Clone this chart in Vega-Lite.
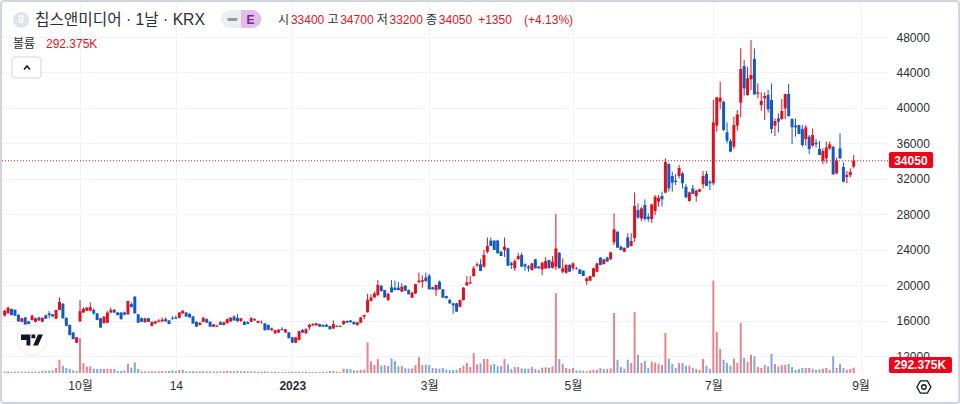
{"$schema":"https://vega.github.io/schema/vega-lite/v6.json","width":886,"height":371,"autosize":"none","padding":{"left":2,"top":2,"right":72,"bottom":31},"background":"#ffffff","config":{"view":{"stroke":null},"font":"Liberation Sans, Noto Sans CJK KR","text":{"font":"Liberation Sans, Noto Sans CJK KR"}},
"datasets":{"ohlcv":[
{"i":0,"o":16600,"h":17250,"l":16500,"c":17150,"v":73},{"i":1,"o":16850,"h":17600,"l":16800,"c":17500,"v":73},{"i":2,"o":17350,"h":17400,"l":16650,"c":16650,"v":73},{"i":3,"o":17250,"h":17300,"l":16550,"c":16600,"v":73},{"i":4,"o":16700,"h":16750,"l":15900,"c":15950,"v":73},{"i":5,"o":15900,"h":16350,"l":15850,"c":16300,"v":73},{"i":6,"o":16400,"h":16450,"l":15600,"c":15600,"v":73},{"i":7,"o":15950,"h":16000,"l":15650,"c":15650,"v":73},{"i":8,"o":16100,"h":16700,"l":16050,"c":16600,"v":73},{"i":9,"o":15900,"h":16350,"l":15850,"c":16300,"v":73},{"i":10,"o":16400,"h":16450,"l":16000,"c":16050,"v":73},{"i":11,"o":15900,"h":16400,"l":15850,"c":16350,"v":128},
{"i":12,"o":16650,"h":16700,"l":16250,"c":16250,"v":128},{"i":13,"o":16850,"h":17100,"l":16300,"c":16650,"v":128},{"i":14,"o":16750,"h":16800,"l":16450,"c":16500,"v":146},{"i":15,"o":16250,"h":17250,"l":16200,"c":17250,"v":275},{"i":16,"o":17250,"h":18650,"l":17200,"c":18150,"v":732},{"i":17,"o":17950,"h":18000,"l":16250,"c":16300,"v":403},{"i":18,"o":16350,"h":16400,"l":15400,"c":15450,"v":275},{"i":19,"o":15550,"h":15600,"l":14400,"c":14400,"v":220},{"i":20,"o":14700,"h":14750,"l":13950,"c":13950,"v":146},{"i":21,"o":13550,"h":14200,"l":13500,"c":14150,"v":110},
{"i":22,"o":15950,"h":18350,"l":15900,"c":17100,"v":1922},{"i":23,"o":16950,"h":17550,"l":16900,"c":17350,"v":549},{"i":24,"o":17150,"h":17550,"l":17100,"c":17500,"v":348},{"i":25,"o":17150,"h":18100,"l":17100,"c":17550,"v":366},{"i":26,"o":17250,"h":17400,"l":16700,"c":16850,"v":238},{"i":27,"o":16850,"h":16900,"l":16100,"c":16100,"v":220},{"i":28,"o":16300,"h":16350,"l":15250,"c":15250,"v":220},{"i":29,"o":15750,"h":16500,"l":15700,"c":16500,"v":220},{"i":30,"o":15800,"h":17100,"l":15800,"c":16950,"v":220},{"i":31,"o":16950,"h":17500,"l":16900,"c":17250,"v":220},{"i":32,"o":17250,"h":17350,"l":16900,"c":16950,"v":220},{"i":33,"o":16950,"h":17000,"l":16650,"c":16650,"v":110},{"i":34,"o":16950,"h":17000,"l":16150,"c":16200,"v":110},{"i":35,"o":16950,"h":17050,"l":16700,"c":16700,"v":146},{"i":36,"o":16750,"h":18250,"l":16700,"c":18250,"v":512},{"i":37,"o":17900,"h":18100,"l":17550,"c":17550,"v":293},{"i":38,"o":18750,"h":18750,"l":16850,"c":16850,"v":585},{"i":39,"o":16750,"h":16750,"l":15800,"c":15800,"v":220},
{"i":40,"o":16300,"h":16400,"l":15900,"c":15900,"v":92},{"i":41,"o":15850,"h":16350,"l":15800,"c":16300,"v":92},{"i":42,"o":16300,"h":16350,"l":15900,"c":15900,"v":92},{"i":43,"o":15450,"h":15950,"l":15350,"c":15900,"v":92},{"i":44,"o":15700,"h":16000,"l":15650,"c":15950,"v":92},{"i":45,"o":15900,"h":16200,"l":15850,"c":16050,"v":92},{"i":46,"o":15950,"h":16400,"l":15900,"c":16150,"v":110},{"i":47,"o":16200,"h":16400,"l":15950,"c":15950,"v":92},{"i":48,"o":16050,"h":16100,"l":15650,"c":15650,"v":110},{"i":49,"o":16300,"h":16550,"l":16150,"c":16200,"v":146},{"i":50,"o":16400,"h":16600,"l":16250,"c":16250,"v":110},{"i":51,"o":16350,"h":17000,"l":16300,"c":16950,"v":165},{"i":52,"o":16850,"h":17250,"l":16800,"c":17150,"v":165},{"i":53,"o":16950,"h":17000,"l":16450,"c":16500,"v":92},{"i":54,"o":16800,"h":16850,"l":16350,"c":16400,"v":92},{"i":55,"o":16500,"h":16550,"l":15700,"c":15700,"v":92},{"i":56,"o":15900,"h":15950,"l":15350,"c":15350,"v":92},{"i":57,"o":15550,"h":15850,"l":15500,"c":15800,"v":92},{"i":58,"o":15900,"h":16450,"l":15850,"c":16350,"v":92},{"i":59,"o":16200,"h":16300,"l":15800,"c":15800,"v":92},
{"i":60,"o":15900,"h":15950,"l":15350,"c":15350,"v":92},{"i":61,"o":15350,"h":15650,"l":15300,"c":15600,"v":73},{"i":62,"o":15350,"h":15600,"l":15300,"c":15450,"v":73},{"i":63,"o":15850,"h":16000,"l":15550,"c":15550,"v":92},{"i":64,"o":15550,"h":15900,"l":15500,"c":15850,"v":92},{"i":65,"o":15750,"h":16250,"l":15700,"c":16200,"v":128},{"i":66,"o":15950,"h":16450,"l":15900,"c":16350,"v":110},{"i":67,"o":16500,"h":16650,"l":16050,"c":16050,"v":92},{"i":68,"o":16350,"h":16800,"l":15850,"c":16000,"v":128},{"i":69,"o":16000,"h":16350,"l":15850,"c":16300,"v":92},{"i":70,"o":15900,"h":16000,"l":15550,"c":15550,"v":110},{"i":71,"o":15850,"h":16000,"l":15650,"c":15650,"v":92},{"i":72,"o":15900,"h":16450,"l":15850,"c":16300,"v":92},{"i":73,"o":16200,"h":16300,"l":16050,"c":16050,"v":92},{"i":74,"o":15800,"h":16050,"l":15750,"c":16000,"v":73},{"i":75,"o":15750,"h":16050,"l":15700,"c":15800,"v":73},{"i":76,"o":15730,"h":15750,"l":14950,"c":14950,"v":92},{"i":77,"o":15550,"h":15600,"l":14950,"c":15000,"v":73},{"i":78,"o":14950,"h":15250,"l":14900,"c":15150,"v":73},{"i":79,"o":14600,"h":15000,"l":14550,"c":14950,"v":73},
{"i":80,"o":14700,"h":15100,"l":14650,"c":15000,"v":55},{"i":81,"o":15100,"h":15300,"l":14950,"c":14950,"v":55},{"i":82,"o":14700,"h":15100,"l":14650,"c":15050,"v":55},{"i":83,"o":14700,"h":14750,"l":14050,"c":14050,"v":73},{"i":84,"o":14150,"h":14200,"l":13500,"c":13550,"v":73},{"i":85,"o":13550,"h":14200,"l":13500,"c":14150,"v":73},{"i":86,"o":13850,"h":14900,"l":13800,"c":14850,"v":73},{"i":87,"o":14980,"h":15100,"l":14650,"c":14680,"v":73},{"i":88,"o":14600,"h":15200,"l":14550,"c":15050,"v":73},{"i":89,"o":15280,"h":15700,"l":15000,"c":15550,"v":55},{"i":90,"o":15500,"h":15750,"l":15450,"c":15650,"v":55},{"i":91,"o":15500,"h":15800,"l":15450,"c":15730,"v":55},{"i":92,"o":15650,"h":15700,"l":15350,"c":15350,"v":55},{"i":93,"o":15550,"h":15600,"l":15350,"c":15350,"v":73},{"i":94,"o":15550,"h":15700,"l":15350,"c":15350,"v":73},{"i":95,"o":15430,"h":15450,"l":15050,"c":15050,"v":110},{"i":96,"o":15150,"h":16050,"l":15100,"c":15650,"v":110},{"i":97,"o":15350,"h":15500,"l":15300,"c":15450,"v":73},{"i":98,"o":15350,"h":15500,"l":15300,"c":15450,"v":55},{"i":99,"o":15650,"h":16050,"l":15550,"c":16000,"v":238},
{"i":100,"o":16000,"h":16050,"l":15800,"c":15800,"v":220},{"i":101,"o":16050,"h":16100,"l":15850,"c":15850,"v":201},{"i":102,"o":15900,"h":15950,"l":15600,"c":15620,"v":146},{"i":103,"o":15550,"h":15850,"l":15450,"c":15850,"v":146},{"i":104,"o":15800,"h":16450,"l":15750,"c":16400,"v":183},{"i":105,"o":16480,"h":16700,"l":16200,"c":16670,"v":183},{"i":106,"o":16970,"h":19050,"l":16950,"c":18350,"v":1684},{"i":107,"o":18250,"h":19000,"l":18200,"c":18650,"v":640},{"i":108,"o":18650,"h":19300,"l":18600,"c":19100,"v":439},{"i":109,"o":18900,"h":20600,"l":18850,"c":20050,"v":769},{"i":110,"o":19950,"h":20050,"l":19300,"c":19370,"v":403},{"i":111,"o":19480,"h":19500,"l":18650,"c":18650,"v":439},{"i":112,"o":18350,"h":19200,"l":18250,"c":19050,"v":384},{"i":113,"o":19790,"h":20600,"l":19220,"c":19220,"v":805},{"i":114,"o":19750,"h":20550,"l":19450,"c":19480,"v":659},{"i":115,"o":19750,"h":20400,"l":19450,"c":19480,"v":366},{"i":116,"o":19300,"h":20250,"l":19250,"c":19860,"v":384},{"i":117,"o":19970,"h":20050,"l":19400,"c":19400,"v":256},{"i":118,"o":19480,"h":19550,"l":19000,"c":19000,"v":238},{"i":119,"o":18620,"h":19250,"l":18600,"c":19180,"v":256},
{"i":120,"o":19100,"h":20200,"l":19050,"c":20150,"v":439},{"i":121,"o":20350,"h":21450,"l":20300,"c":20550,"v":878},{"i":122,"o":20420,"h":21150,"l":19750,"c":20600,"v":439},{"i":123,"o":20880,"h":21450,"l":20400,"c":20500,"v":458},{"i":124,"o":21100,"h":21300,"l":19560,"c":19560,"v":439},{"i":125,"o":19790,"h":19850,"l":19550,"c":19560,"v":275},{"i":126,"o":19480,"h":20100,"l":18800,"c":20050,"v":256},{"i":127,"o":20420,"h":20550,"l":19560,"c":19560,"v":238},{"i":128,"o":19560,"h":19600,"l":18620,"c":18620,"v":275},{"i":129,"o":18810,"h":18850,"l":18550,"c":18550,"v":183},{"i":130,"o":18350,"h":18500,"l":17950,"c":17980,"v":165},{"i":131,"o":17980,"h":18050,"l":16800,"c":17750,"v":165},{"i":132,"o":17980,"h":18050,"l":17050,"c":17050,"v":183},{"i":133,"o":17600,"h":18400,"l":17550,"c":18350,"v":275},{"i":134,"o":18350,"h":19800,"l":18300,"c":19750,"v":403},{"i":135,"o":20010,"h":21050,"l":19950,"c":20350,"v":549},{"i":136,"o":20230,"h":21050,"l":20150,"c":20350,"v":329},{"i":137,"o":21060,"h":22200,"l":21000,"c":21930,"v":1098},{"i":138,"o":22230,"h":22600,"l":22100,"c":22380,"v":476},{"i":139,"o":22380,"h":22950,"l":21630,"c":21630,"v":531},
{"i":140,"o":22120,"h":24000,"l":22000,"c":23430,"v":769},{"i":141,"o":23800,"h":25400,"l":23600,"c":24450,"v":769},{"i":142,"o":25050,"h":25400,"l":24450,"c":24450,"v":439},{"i":143,"o":25050,"h":25100,"l":24000,"c":24000,"v":494},{"i":144,"o":25050,"h":25150,"l":23600,"c":23620,"v":366},{"i":145,"o":23800,"h":23900,"l":23300,"c":23320,"v":384},{"i":146,"o":24000,"h":25400,"l":23200,"c":24370,"v":769},{"i":147,"o":24180,"h":24250,"l":22230,"c":22230,"v":476},{"i":148,"o":22500,"h":22650,"l":21850,"c":22300,"v":220},{"i":149,"o":21930,"h":22950,"l":21650,"c":22750,"v":329},{"i":150,"o":22950,"h":23650,"l":22900,"c":23320,"v":329},{"i":151,"o":23430,"h":23700,"l":22120,"c":22120,"v":256},{"i":152,"o":22400,"h":22500,"l":21650,"c":22120,"v":238},{"i":153,"o":22120,"h":22300,"l":21550,"c":21930,"v":238},{"i":154,"o":21740,"h":22500,"l":21650,"c":22490,"v":329},{"i":155,"o":22950,"h":23000,"l":21930,"c":21930,"v":220},{"i":156,"o":22120,"h":22200,"l":21900,"c":21930,"v":165},{"i":157,"o":21820,"h":22650,"l":21150,"c":22560,"v":293},{"i":158,"o":21930,"h":23150,"l":21850,"c":22750,"v":311},{"i":159,"o":22870,"h":22900,"l":21930,"c":21930,"v":293},
{"i":160,"o":22000,"h":23300,"l":21900,"c":22680,"v":366},{"i":161,"o":22120,"h":28050,"l":21740,"c":24180,"v":4392},{"i":162,"o":23690,"h":23750,"l":21930,"c":21930,"v":769},{"i":163,"o":21550,"h":23050,"l":21350,"c":21930,"v":512},{"i":164,"o":21440,"h":22400,"l":21300,"c":22300,"v":275},{"i":165,"o":22300,"h":22400,"l":21550,"c":21550,"v":220},{"i":166,"o":21930,"h":22600,"l":21700,"c":22490,"v":275},{"i":167,"o":21930,"h":22100,"l":21800,"c":21850,"v":146},{"i":168,"o":21810,"h":21850,"l":21290,"c":21290,"v":146},{"i":169,"o":21650,"h":21700,"l":21060,"c":21060,"v":128},{"i":170,"o":20500,"h":20900,"l":20050,"c":20800,"v":92},{"i":171,"o":20540,"h":21100,"l":20500,"c":21060,"v":146},{"i":172,"o":20990,"h":22000,"l":20950,"c":21930,"v":183},{"i":173,"o":21550,"h":22550,"l":21500,"c":22490,"v":183},{"i":174,"o":23130,"h":23200,"l":22300,"c":22300,"v":275},{"i":175,"o":22420,"h":23000,"l":22350,"c":22940,"v":220},{"i":176,"o":23130,"h":23250,"l":22680,"c":22680,"v":220},{"i":177,"o":22940,"h":23800,"l":22900,"c":23730,"v":256},{"i":178,"o":24860,"h":28130,"l":24560,"c":26320,"v":3294},{"i":179,"o":26060,"h":26100,"l":24250,"c":24260,"v":732},
{"i":180,"o":24370,"h":24500,"l":23950,"c":23990,"v":329},{"i":181,"o":23800,"h":24250,"l":23750,"c":24250,"v":238},{"i":182,"o":25420,"h":25880,"l":24260,"c":24260,"v":732},{"i":183,"o":24440,"h":25880,"l":24400,"c":25010,"v":549},{"i":184,"o":25350,"h":30490,"l":24930,"c":28950,"v":3349},{"i":185,"o":28500,"h":29250,"l":27500,"c":27640,"v":1007},{"i":186,"o":27560,"h":28880,"l":27260,"c":28690,"v":549},{"i":187,"o":29070,"h":29700,"l":27300,"c":27490,"v":659},{"i":188,"o":27750,"h":28130,"l":27190,"c":27490,"v":275},{"i":189,"o":27490,"h":29150,"l":27070,"c":29140,"v":622},{"i":190,"o":28390,"h":30190,"l":27940,"c":30000,"v":567},{"i":191,"o":29440,"h":30190,"l":28880,"c":29890,"v":512},{"i":192,"o":30080,"h":30570,"l":28880,"c":29700,"v":439},{"i":193,"o":30460,"h":34330,"l":30380,"c":33910,"v":2196},{"i":194,"o":33690,"h":33760,"l":30570,"c":30940,"v":787},{"i":195,"o":32340,"h":32820,"l":30570,"c":31580,"v":494},{"i":196,"o":31810,"h":32560,"l":31320,"c":31660,"v":275},{"i":197,"o":32340,"h":33570,"l":32070,"c":33240,"v":549},{"i":198,"o":32630,"h":32820,"l":30940,"c":31510,"v":549},{"i":199,"o":31130,"h":31400,"l":29820,"c":29930,"v":403},
{"i":200,"o":29520,"h":30570,"l":29440,"c":30490,"v":403},{"i":201,"o":30940,"h":31320,"l":30300,"c":30300,"v":293},{"i":202,"o":30080,"h":30770,"l":29440,"c":30680,"v":220},{"i":203,"o":30570,"h":30900,"l":30500,"c":30830,"v":165},{"i":204,"o":31400,"h":32900,"l":30940,"c":32330,"v":769},{"i":205,"o":32560,"h":32900,"l":31210,"c":31210,"v":403},{"i":206,"o":31700,"h":31880,"l":30760,"c":31510,"v":238},{"i":207,"o":31510,"h":40900,"l":31320,"c":38380,"v":5069},{"i":208,"o":38010,"h":41250,"l":37330,"c":41200,"v":2251},{"i":209,"o":40710,"h":42970,"l":39880,"c":41160,"v":1318},{"i":210,"o":40710,"h":40800,"l":37400,"c":37520,"v":732},{"i":211,"o":37260,"h":38380,"l":36020,"c":36320,"v":549},{"i":212,"o":36280,"h":36500,"l":35000,"c":35080,"v":403},{"i":213,"o":35640,"h":39020,"l":35380,"c":38080,"v":787},{"i":214,"o":38010,"h":39770,"l":37440,"c":39280,"v":549},{"i":215,"o":40600,"h":46720,"l":38950,"c":44390,"v":2745},{"i":216,"o":44730,"h":45410,"l":41390,"c":42210,"v":824},{"i":217,"o":41460,"h":44660,"l":41390,"c":43340,"v":604},{"i":218,"o":43230,"h":47660,"l":42030,"c":43720,"v":1007},{"i":219,"o":45520,"h":46720,"l":41460,"c":41540,"v":915},
{"i":220,"o":41610,"h":42780,"l":41090,"c":41760,"v":329},{"i":221,"o":40340,"h":41760,"l":39700,"c":40790,"v":275},{"i":222,"o":41090,"h":41760,"l":38650,"c":41350,"v":439},{"i":223,"o":41460,"h":42030,"l":39470,"c":39850,"v":366},{"i":224,"o":40900,"h":42780,"l":37140,"c":37630,"v":1043},{"i":225,"o":38010,"h":38830,"l":36840,"c":38530,"v":494},{"i":226,"o":38830,"h":39400,"l":37220,"c":38460,"v":366},{"i":227,"o":38760,"h":41010,"l":38650,"c":39660,"v":439},{"i":228,"o":39960,"h":41580,"l":38760,"c":41570,"v":439},{"i":229,"o":41580,"h":42700,"l":39020,"c":39100,"v":494},{"i":230,"o":38760,"h":38830,"l":35940,"c":37820,"v":329},{"i":231,"o":38010,"h":38830,"l":36770,"c":37820,"v":165},{"i":232,"o":38080,"h":38100,"l":37070,"c":37070,"v":220},{"i":233,"o":37630,"h":38080,"l":35640,"c":35830,"v":275},{"i":234,"o":36500,"h":38080,"l":35750,"c":37820,"v":275},{"i":235,"o":36770,"h":36950,"l":34810,"c":35380,"v":275},{"i":236,"o":35750,"h":37700,"l":35640,"c":36950,"v":238},{"i":237,"o":36090,"h":36500,"l":35560,"c":35900,"v":165},{"i":238,"o":35380,"h":36280,"l":34700,"c":34700,"v":201},{"i":239,"o":34060,"h":35450,"l":33650,"c":35150,"v":238},
{"i":240,"o":34320,"h":36200,"l":33760,"c":35560,"v":275},{"i":241,"o":35450,"h":36200,"l":35260,"c":35900,"v":165},{"i":242,"o":35640,"h":35710,"l":32450,"c":32520,"v":915},{"i":243,"o":32630,"h":34400,"l":32520,"c":34100,"v":275},{"i":244,"o":35450,"h":37140,"l":34250,"c":34320,"v":494},{"i":245,"o":33350,"h":33870,"l":31620,"c":31700,"v":275},{"i":246,"o":32220,"h":32900,"l":31510,"c":32450,"v":183},{"i":247,"o":32450,"h":33200,"l":32150,"c":32780,"v":220},{"i":248,"o":33400,"h":34700,"l":33200,"c":34050,"v":292.375}
],"one":[{}]},
"resolve":{"scale":{"y":"independent"}},
"layer":[
{"data":{"name":"ohlcv"},"mark":{"type":"bar","size":2},"encoding":{"x":{"field":"i","type":"quantitative","scale":{"domain":[-0.789,258.02],"nice":false,"zero":false,"padding":0},"axis":{"title":null,"values":[22,50,84,124,166,207,250],"labelExpr":"datum.value==22?'10월':datum.value==50?'14':datum.value==84?'2023':datum.value==124?'3월':datum.value==166?'5월':datum.value==207?'7월':'9월'","grid":true,"gridColor":"#f0f3fa","gridWidth":1,"domain":false,"ticks":false,"labelPadding":7,"labelFontSize":12,"labelColor":"#2a2e39","labelFont":"Liberation Sans, Noto Sans CJK KR","labelFontWeight":{"expr":"datum.value==84?'bold':'normal'"},"labelOverlap":false,"labelFlush":false}},"y":{"field":"v","type":"quantitative","scale":{"domain":[0,20368],"nice":false,"zero":true},"axis":null},"color":{"condition":{"test":"datum.c>=datum.o","value":"#e8838d"},"value":"#7fa8de"}}},
{"layer":[
{"data":{"name":"ohlcv"},"mark":{"type":"rule","strokeWidth":1},"encoding":{"x":{"field":"i","type":"quantitative"},"y":{"field":"l","type":"quantitative","scale":{"domain":[10133,51945],"nice":false,"zero":false},"axis":{"orient":"right","title":null,"values":[12000,16000,20000,24000,28000,32000,36000,40000,44000,48000],"format":"d","grid":true,"gridColor":"#f0f3fa","gridWidth":1,"domain":false,"ticks":false,"labelPadding":8,"labelFontSize":12,"labelColor":"#2a2e39","labelFont":"Liberation Sans, Noto Sans CJK KR"}},"y2":{"field":"h"},"color":{"condition":{"test":"datum.c>=datum.o","value":"#e0101e"},"value":"#1259c3"}}},
{"data":{"name":"ohlcv"},"mark":{"type":"bar","size":3},"encoding":{"x":{"field":"i","type":"quantitative"},"y":{"field":"o","type":"quantitative"},"y2":{"field":"c"},"color":{"condition":{"test":"datum.c>=datum.o","value":"#e0101e"},"value":"#1259c3"}}},
{"data":{"name":"one"},"mark":{"type":"rule","color":"#d8101e","strokeWidth":1,"strokeDash":[1,2]},"encoding":{"y":{"datum":34050}}},
{"data":{"name":"one"},"mark":{"type":"rect","fill":"transparent","stroke":"#d1d4dc","strokeWidth":2,"cornerRadius":3},"encoding":{"x":{"datum":-1.08},"x2":{"datum":278.8},"y":{"datum":52057},"y2":{"datum":6752}}},
{"data":{"name":"one"},"mark":{"type":"rect","fill":"#f2001a","cornerRadius":2},"encoding":{"x":{"datum":258.3},"x2":{"datum":271.2},"y":{"datum":35040},"y2":{"datum":33236}}},
{"data":{"name":"one"},"mark":{"type":"text","fontSize":12,"fontWeight":"bold","color":"#ffffff","align":"center","baseline":"middle"},"encoding":{"x":{"datum":264.7},"y":{"datum":34050},"text":{"value":"34050"}}},
{"data":{"name":"one"},"mark":{"type":"rect","fill":"#f2001a","cornerRadius":2},"encoding":{"x":{"datum":258.3},"x2":{"datum":276.7},"y":{"datum":11936},"y2":{"datum":10133}}},
{"data":{"name":"one"},"mark":{"type":"text","fontSize":12,"fontWeight":"bold","color":"#ffffff","align":"center","baseline":"middle"},"encoding":{"x":{"datum":267.4},"y":{"datum":11000},"text":{"value":"292.375K"}}},
{"data":{"name":"one"},"mark":{"type":"point","filled":true,"size":254,"color":"#e0e3eb","opacity":1},"encoding":{"x":{"datum":4.8},"y":{"datum":49916}}},
{"data":{"name":"one"},"mark":{"type":"text","fontSize":10,"fontWeight":"bold","color":"#ffffff","align":"center","baseline":"middle"},"encoding":{"x":{"datum":4.8},"y":{"datum":49916},"text":{"value":"0"}}},
{"data":{"name":"one"},"mark":{"type":"text","fontSize":15.7,"color":"#2a2e39","align":"left","baseline":"middle"},"encoding":{"x":{"datum":8.85},"y":{"datum":49916},"text":{"value":"칩스앤미디어 · 1날 · KRX"}}},
{"data":{"name":"one"},"mark":{"type":"rect","fill":"#eceef2","cornerRadius":9},"encoding":{"x":{"datum":63.2},"x2":{"datum":74.9},"y":{"datum":51043},"y2":{"datum":49014}}},
{"data":{"name":"one"},"mark":{"type":"rect","fill":"#e1bee7","cornerRadiusTopRight":9,"cornerRadiusBottomRight":9},"encoding":{"x":{"datum":69},"x2":{"datum":74.9},"y":{"datum":51043},"y2":{"datum":49014}}},
{"data":{"name":"one"},"mark":{"type":"rect","fill":"#9598a1","cornerRadius":1.5},"encoding":{"x":{"datum":65},"x2":{"datum":68},"y":{"datum":50141},"y2":{"datum":49803}}},
{"data":{"name":"one"},"mark":{"type":"text","fontSize":12,"fontWeight":"bold","color":"#7b1fa2","align":"center","baseline":"middle"},"encoding":{"x":{"datum":71.8},"y":{"datum":49916},"text":{"value":"E"}}},
{"data":{"name":"one"},"mark":{"type":"text","fontSize":12,"color":"#2a2e39","align":"left","baseline":"middle"},"encoding":{"x":{"datum":79.8},"y":{"datum":49916},"text":{"value":"시"}}},
{"data":{"name":"one"},"mark":{"type":"text","fontSize":12,"color":"#e2141e","align":"left","baseline":"middle"},"encoding":{"x":{"datum":83.6},"y":{"datum":49916},"text":{"value":"33400"}}},
{"data":{"name":"one"},"mark":{"type":"text","fontSize":12,"color":"#2a2e39","align":"left","baseline":"middle"},"encoding":{"x":{"datum":94.3},"y":{"datum":49916},"text":{"value":"고"}}},
{"data":{"name":"one"},"mark":{"type":"text","fontSize":12,"color":"#e2141e","align":"left","baseline":"middle"},"encoding":{"x":{"datum":98},"y":{"datum":49916},"text":{"value":"34700"}}},
{"data":{"name":"one"},"mark":{"type":"text","fontSize":12,"color":"#2a2e39","align":"left","baseline":"middle"},"encoding":{"x":{"datum":108.7},"y":{"datum":49916},"text":{"value":"저"}}},
{"data":{"name":"one"},"mark":{"type":"text","fontSize":12,"color":"#e2141e","align":"left","baseline":"middle"},"encoding":{"x":{"datum":112.4},"y":{"datum":49916},"text":{"value":"33200"}}},
{"data":{"name":"one"},"mark":{"type":"text","fontSize":12,"color":"#2a2e39","align":"left","baseline":"middle"},"encoding":{"x":{"datum":123.1},"y":{"datum":49916},"text":{"value":"종"}}},
{"data":{"name":"one"},"mark":{"type":"text","fontSize":12,"color":"#e2141e","align":"left","baseline":"middle"},"encoding":{"x":{"datum":126.8},"y":{"datum":49916},"text":{"value":"34050"}}},
{"data":{"name":"one"},"mark":{"type":"text","fontSize":12,"color":"#e2141e","align":"left","baseline":"middle"},"encoding":{"x":{"datum":138.3},"y":{"datum":49916},"text":{"value":"+1350"}}},
{"data":{"name":"one"},"mark":{"type":"text","fontSize":12,"color":"#e2141e","align":"left","baseline":"middle"},"encoding":{"x":{"datum":151.7},"y":{"datum":49916},"text":{"value":"(+4.13%)"}}},
{"data":{"name":"one"},"mark":{"type":"text","fontSize":12,"color":"#2a2e39","align":"left","baseline":"middle"},"encoding":{"x":{"datum":2.4},"y":{"datum":47211},"text":{"value":"볼륨"}}},
{"data":{"name":"one"},"mark":{"type":"text","fontSize":12,"color":"#e2141e","align":"left","baseline":"middle"},"encoding":{"x":{"datum":12.06},"y":{"datum":47211},"text":{"value":"292.375K"}}},
{"data":{"name":"one"},"mark":{"type":"rect","fill":"#ffffff","stroke":"#d1d4dc","strokeWidth":1,"cornerRadius":3},"encoding":{"x":{"datum":2.13},"x2":{"datum":10.6},"y":{"datum":45746},"y2":{"datum":43379}}},
{"data":{"values":[{"a":5.64,"b":44337},{"a":6.51,"b":44732},{"a":7.39,"b":44337}]},"mark":{"type":"line","color":"#131722","strokeWidth":1.5},"encoding":{"x":{"field":"a","type":"quantitative"},"y":{"field":"b","type":"quantitative"},"order":{"field":"a"}}},
{"data":{"name":"one"},"mark":{"type":"point","filled":true,"fill":"#ffffff","stroke":"#ebebeb","strokeWidth":1,"opacity":1},"encoding":{"x":{"datum":7.97},"y":{"datum":13852},"shape":{"value":"circle"},"size":{"value":908}}},
{"data":{"name":"one"},"mark":{"type":"point","filled":true,"color":"#131722","opacity":1},"encoding":{"x":{"datum":7.97},"y":{"datum":13852},"size":{"value":484},"shape":{"value":"M-1 -0.5 L-0.15 -0.5 L-0.15 0.5 L-0.5 0.5 L-0.5 0 L-1 0 Z M-0.05 -0.5 L0.3 -0.5 L0.3 -0.15 L-0.05 -0.15 Z M0.55 -0.5 L1 -0.5 L0.55 0.5 L0.1 0.5 Z"}}},
{"data":{"name":"one"},"mark":{"type":"point","filled":false,"color":"#131722","strokeWidth":1.3,"opacity":1},"encoding":{"x":{"datum":268.5},"y":{"datum":8555},"size":{"value":196},"shape":{"value":"M-1 0 L-0.5 -0.866 L0.5 -0.866 L1 0 L0.5 0.866 L-0.5 0.866 Z"}}},
{"data":{"name":"one"},"mark":{"type":"point","filled":false,"color":"#131722","strokeWidth":1.3,"opacity":1},"encoding":{"x":{"datum":268.5},"y":{"datum":8555},"size":{"value":20},"shape":{"value":"circle"}}}
]}
]}
